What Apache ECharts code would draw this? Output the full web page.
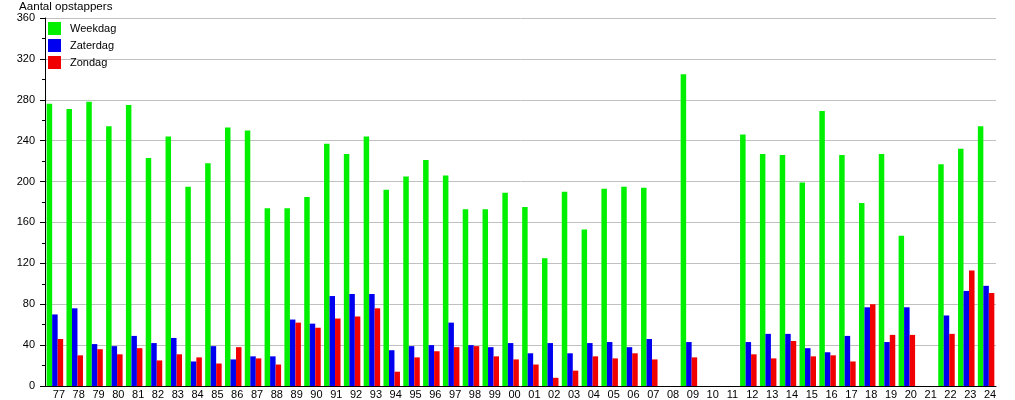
<!DOCTYPE html>
<html>
<head>
<meta charset="utf-8">
<script src="https://cdn.jsdelivr.net/npm/echarts@6/dist/echarts.min.js"></script>
<style>
html,body{margin:0;padding:0;background:#fff;}
#c{width:1015px;height:400px;}
</style>
</head>
<body>
<div id="c"></div>
<script>
const categories = ['77','78','79','80','81','82','83','84','85','86','87','88','89','90','91','92','93','94','95','96','97','98','99','00','01','02','03','04','05','06','07','08','09','10','11','12','13','14','15','16','17','18','19','20','21','22','23','24'];
const weekdag = [276,271,278,254,275,223,244,195,218,253,250,174,174,185,237,227,244,192,205,221,206,173,173,189,175,125,190,153,193,195,194,null,305,null,null,246,227,226,199,269,226,179,227,147,null,217,232,254];
const zaterdag = [70,76,41,39,49,42,47,24,39,26,29,29,65,61,88,90,90,35,39,40,62,40,38,42,32,42,32,42,43,38,46,null,43,null,null,43,51,51,37,33,49,77,43,77,null,69,93,98];
const zondag = [46,30,36,31,37,25,31,28,22,38,27,21,62,57,66,68,76,14,28,34,38,39,29,26,21,8,15,29,27,32,26,null,28,null,null,31,27,44,29,30,24,80,50,50,null,51,113,91];
const yTicks = {min:0, max:360, interval:40};

const font = 'Liberation Sans, Arial, sans-serif';
const chart = echarts.init(document.getElementById('c'));
const mk = (name, data, color) => ({
  name, type:'bar', data, barWidth:5.5, barGap:'0%',
  itemStyle:{color}, animation:false
});
chart.setOption({
  animation:false,
  textStyle:{fontFamily:font},
  title:{text:'Aantal opstappers', left:19, top:1, padding:0, textStyle:{fontSize:11.6, fontWeight:'normal', color:'#000', fontFamily:font}},
  legend:{
    orient:'vertical', left:48, top:22, itemWidth:13, itemHeight:13, itemGap:4, padding:0,
    icon:'rect',
    textStyle:{fontSize:11, color:'#000', fontFamily:font, padding:[0,0,0,4]},
    data:['Weekdag','Zaterdag','Zondag']
  },
  grid:{left:45, right:19, top:18, bottom:13, containLabel:false},
  xAxis:{
    type:'category', data:categories,
    axisLine:{lineStyle:{color:'#000', width:1}},
    axisTick:{show:false},
    axisLabel:{color:'#000', fontSize:11, fontFamily:font, margin:3, interval:0, padding:[0,0,0,8]}
  },
  yAxis:{
    type:'value', min:yTicks.min, max:yTicks.max, interval:yTicks.interval,
    axisLine:{show:true, lineStyle:{color:'#000', width:1}},
    axisTick:{show:true, length:5, lineStyle:{color:'#000'}},
    minorTick:{show:true, splitNumber:2, length:3, lineStyle:{color:'#000'}},
    axisLabel:{color:'#000', fontSize:11, fontFamily:font, margin:10},
    splitLine:{show:true, lineStyle:{color:'#c0c0c0', width:1}}
  },
  series:[
    mk('Weekdag', weekdag, '#00f000'),
    mk('Zaterdag', zaterdag, '#0000f0'),
    mk('Zondag', zondag, '#f00000')
  ]
});
</script>
</body>
</html>
